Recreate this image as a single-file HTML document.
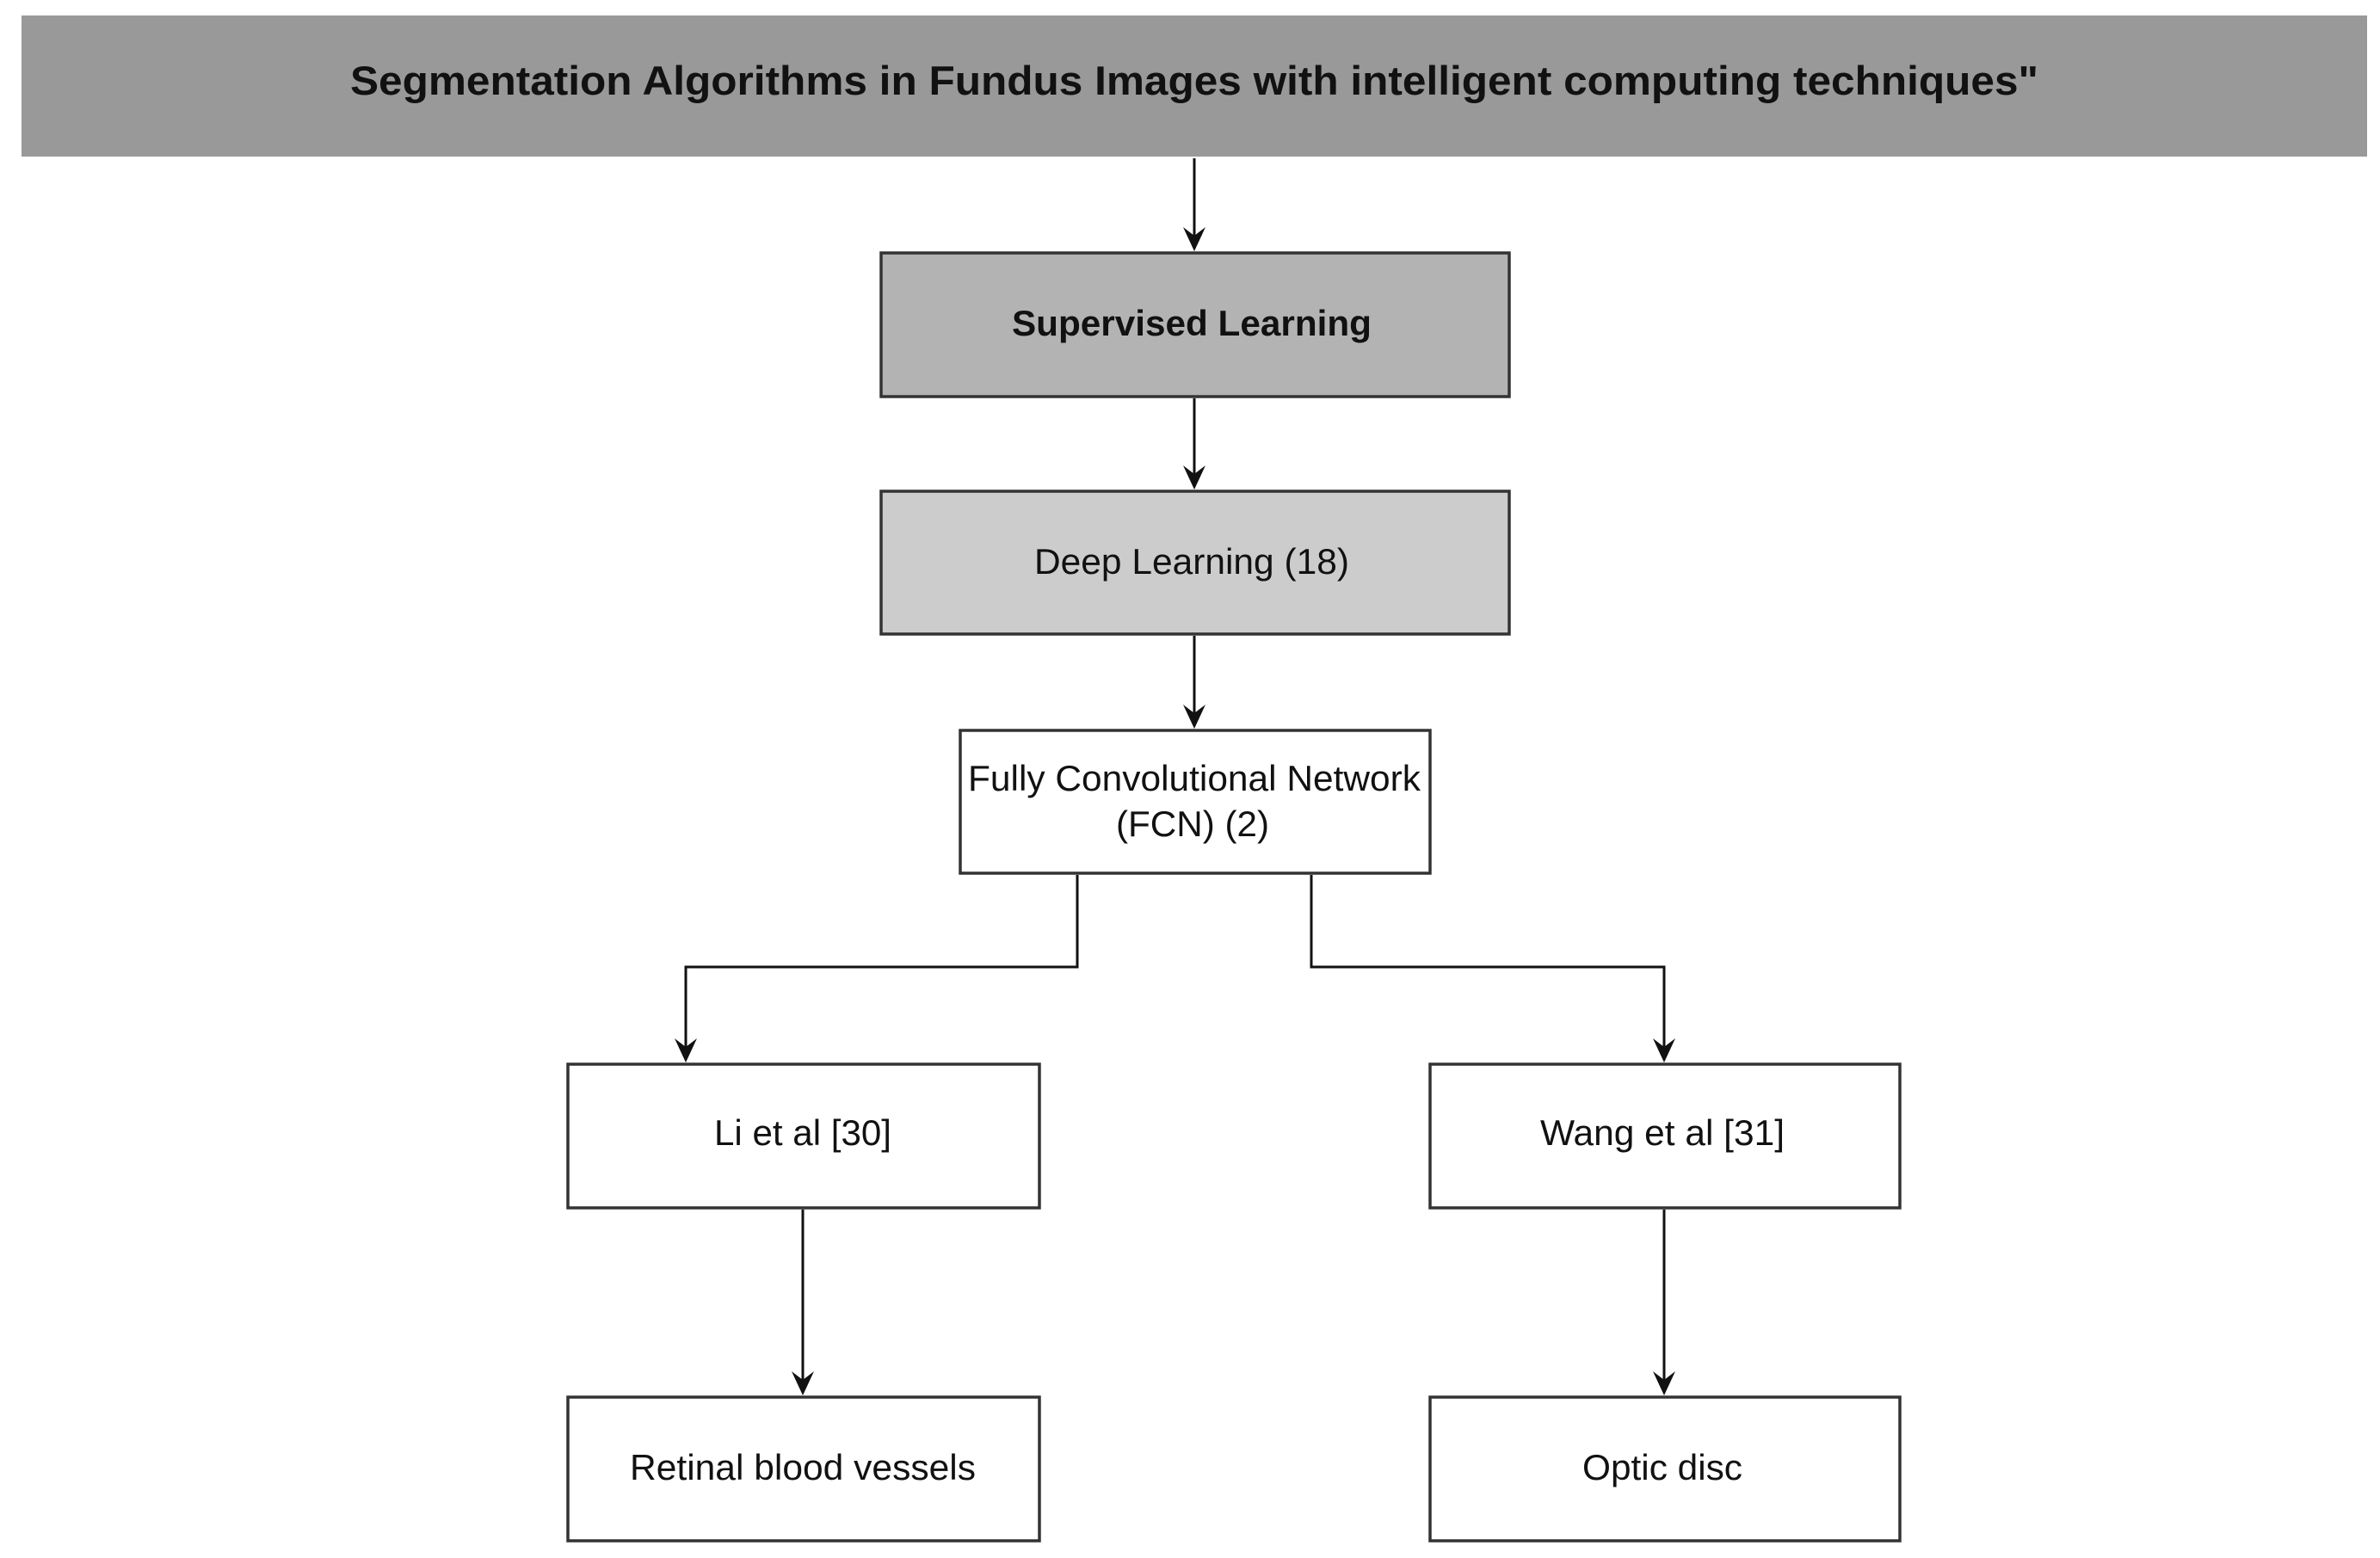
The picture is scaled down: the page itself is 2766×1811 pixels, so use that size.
<!DOCTYPE html>
<html><head><meta charset="utf-8"><style>
html,body{margin:0;padding:0;background:#fff;}
svg{display:block;}
text{font-family:"Liberation Sans",Arial,sans-serif;fill:#111;}
</style></head><body>
<svg width="2766" height="1811" viewBox="0 0 2766 1811" xmlns="http://www.w3.org/2000/svg">
<defs>
<marker id="a" markerWidth="12" markerHeight="14" refX="10" refY="7" orient="auto" markerUnits="userSpaceOnUse" viewBox="0 0 12 14">
</marker>
</defs>
<rect x="25" y="18" width="2726" height="164" fill="#999999"/>
<text x="1388" y="110" font-size="47" font-weight="bold" text-anchor="middle" textLength="1962" lengthAdjust="spacingAndGlyphs">Segmentation Algorithms in Fundus Images with intelligent computing techniques"</text>

<g stroke="#333" stroke-width="3.5">
<rect x="1024" y="294" width="730" height="167" fill="#b3b3b3"/>
<rect x="1024" y="571" width="730" height="166" fill="#cccccc"/>
<rect x="1116" y="849" width="546" height="166" fill="#fff"/>
<rect x="660" y="1237" width="548" height="167" fill="#fff"/>
<rect x="1662" y="1237" width="546" height="167" fill="#fff"/>
<rect x="660" y="1624" width="548" height="167" fill="#fff"/>
<rect x="1662" y="1624" width="546" height="167" fill="#fff"/>
</g>

<g stroke="#111" stroke-width="3" fill="none">
<path d="M1388 184 V288"/>
<path d="M1388 463 V565"/>
<path d="M1388 739 V843"/>
<path d="M1252 1017 V1124 H797 V1231"/>
<path d="M1524 1017 V1124 H1934 V1231"/>
<path d="M933 1406 V1618"/>
<path d="M1934 1406 V1618"/>
</g>
<g fill="#111">
<path d="M1388 292 l-13 -28 l13 10 l13 -10 z"/>
<path d="M1388 569 l-13 -28 l13 10 l13 -10 z"/>
<path d="M1388 847 l-13 -28 l13 10 l13 -10 z"/>
<path d="M797 1235 l-13 -28 l13 10 l13 -10 z"/>
<path d="M1934 1235 l-13 -28 l13 10 l13 -10 z"/>
<path d="M933 1622 l-13 -28 l13 10 l13 -10 z"/>
<path d="M1934 1622 l-13 -28 l13 10 l13 -10 z"/>
</g>

<text x="1385" y="390" font-size="42" font-weight="bold" text-anchor="middle" textLength="418" lengthAdjust="spacingAndGlyphs">Supervised Learning</text>
<text x="1385" y="667" font-size="42" text-anchor="middle" textLength="366" lengthAdjust="spacingAndGlyphs">Deep Learning (18)</text>
<text x="1388" y="919" font-size="42" text-anchor="middle" textLength="526" lengthAdjust="spacingAndGlyphs">Fully Convolutional Network</text>
<text x="1386" y="972" font-size="42" text-anchor="middle" textLength="178" lengthAdjust="spacingAndGlyphs">(FCN) (2)</text>
<text x="933" y="1331" font-size="42" text-anchor="middle" textLength="206" lengthAdjust="spacingAndGlyphs">Li et al [30]</text>
<text x="1932" y="1331" font-size="42" text-anchor="middle" textLength="284" lengthAdjust="spacingAndGlyphs">Wang et al [31]</text>
<text x="933" y="1720" font-size="42" text-anchor="middle" textLength="402" lengthAdjust="spacingAndGlyphs">Retinal blood vessels</text>
<text x="1932" y="1720" font-size="42" text-anchor="middle" textLength="186" lengthAdjust="spacingAndGlyphs">Optic disc</text>
</svg>
</body></html>
